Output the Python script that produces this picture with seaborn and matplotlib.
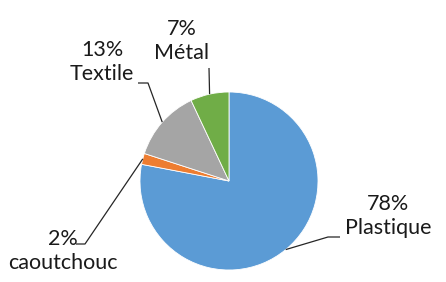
import numpy as np
import matplotlib
matplotlib.use("Agg")
from matplotlib import pyplot as plt
import seaborn as sns

# data
labels = ['Plastique', 'caoutchouc', 'Textile', 'Métal']
values = [78, 2, 13, 7]
pct_labels = ['78%', '2%', '13%', '7%']
colors = sns.color_palette(['#5B9BD5', '#ED7D31', '#A5A5A5', '#70AD47'])

sns.set_theme(style='white')
plt.rcParams['font.family'] = ['Lato', 'DejaVu Sans']

W, H = 446, 282
fig = plt.figure(figsize=(W / 100, H / 100), dpi=100)
ax = fig.add_axes([0, 0, 1, 1])

cx, cy, r = 229, H - 181, 89
wedges, _ = ax.pie(values, colors=colors, startangle=90, counterclock=False,
                   center=(cx, cy), radius=r, frame=True,
                   wedgeprops=dict(edgecolor='white', linewidth=0.6))
ax.set_xlim(0, W)
ax.set_ylim(0, H)
ax.set_aspect('equal')
ax.axis('off')

# label layout: text centre, elbow point, line end (pixels from top-left)
text_pos = [(388, 216), (63, 251), (102, 62), (182, 41)]
elbows = [(328, 237), (85, 244), (148, 83), (209, 68)]
ends = [(340, 237), (76, 244), (138, 83), (209, 68)]

for w, lab, pct, tp, el, en in zip(wedges, labels, pct_labels, text_pos, elbows, ends):
    ang = np.deg2rad((w.theta1 + w.theta2) / 2)
    ax_x = cx + r * np.cos(ang)
    ax_y = cy + r * np.sin(ang)
    ax.plot([ax_x, el[0], en[0]], [ax_y, H - el[1], H - en[1]],
            color='#262626', lw=0.9, solid_capstyle='butt')
    ax.text(tp[0], H - tp[1], pct + '\n' + lab, ha='center', va='center',
            fontsize=15.5, color='#1a1a1a', linespacing=1.2)

fig.savefig('out.png', dpi=100, facecolor='white')
